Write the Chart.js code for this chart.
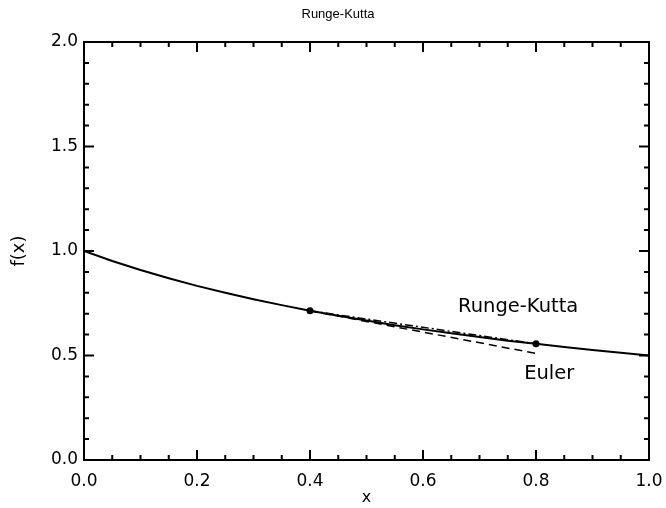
<!DOCTYPE html>
<html>
<head>
<meta charset="utf-8">
<script src="https://cdn.jsdelivr.net/npm/chart.js@4/dist/chart.umd.min.js"></script>
<style>
  html, body { margin: 0; padding: 0; background: #fff; }
  #wrap { width: 666px; height: 508px; }
</style>
</head>
<body>
<div id="wrap"><canvas id="c" width="666" height="508"></canvas></div>
<script>
// ---- data ----
const curveX = [0.00, 0.05, 0.10, 0.15, 0.20, 0.25, 0.30, 0.35, 0.40, 0.45, 0.50,
                0.55, 0.60, 0.65, 0.70, 0.75, 0.80, 0.85, 0.90, 0.95, 1.00];
const curveY = [1.000, 0.952, 0.909, 0.870, 0.833, 0.800, 0.769, 0.741, 0.714, 0.690, 0.667,
                0.645, 0.625, 0.606, 0.588, 0.571, 0.556, 0.541, 0.526, 0.513, 0.500];
const eulerX = [0.40, 0.80];
const eulerY = [0.714, 0.510];
const rkX = [0.40, 0.80];
const rkY = [0.714, 0.556];
const stepX = [0.40, 0.80];
const stepY = [0.714, 0.556];

const xMajorTicks = [0.0, 0.2, 0.4, 0.6, 0.8, 1.0];
const xMinorTicks = [0.05, 0.10, 0.15, 0.25, 0.30, 0.35, 0.45, 0.50, 0.55, 0.65, 0.70, 0.75, 0.85, 0.90, 0.95];
const yMajorTicks = [0.0, 0.5, 1.0, 1.5, 2.0];
const yMinorTicks = [0.1, 0.2, 0.3, 0.4, 0.6, 0.7, 0.8, 0.9, 1.1, 1.2, 1.3, 1.4, 1.6, 1.7, 1.8, 1.9];

const titleText = 'Runge-Kutta';
const xTitle = 'x';
const yTitle = 'f(x)';
const labels = [
  { text: 'Runge-Kutta', x: 0.662, y: 0.732 },
  { text: 'Euler', x: 0.779, y: 0.413 }
];

const toPts = (xs, ys) => xs.map((x, i) => ({ x: x, y: ys[i] }));
const FONT = "'DejaVu Sans', 'Liberation Sans', sans-serif";

const framePlugin = {
  id: 'frame',
  afterDatasetsDraw(chart) {
    const ctx = chart.ctx;
    const a = chart.chartArea;
    const xs = chart.scales.x, ys = chart.scales.y;
    ctx.save();
    ctx.strokeStyle = '#000';
    ctx.lineWidth = 2;
    ctx.lineCap = 'butt';
    ctx.strokeRect(a.left, a.top, a.right - a.left, a.bottom - a.top);
    const tick = (vals, len) => {
      vals.forEach(v => {
        const px = xs.getPixelForValue(v);
        ctx.beginPath();
        ctx.moveTo(px, a.bottom); ctx.lineTo(px, a.bottom - len);
        ctx.moveTo(px, a.top); ctx.lineTo(px, a.top + len);
        ctx.stroke();
      });
    };
    const tickY = (vals, len) => {
      vals.forEach(v => {
        const py = ys.getPixelForValue(v);
        ctx.beginPath();
        ctx.moveTo(a.left, py); ctx.lineTo(a.left + len, py);
        ctx.moveTo(a.right, py); ctx.lineTo(a.right - len, py);
        ctx.stroke();
      });
    };
    tick(xMajorTicks, 10); tick(xMinorTicks, 5);
    tickY(yMajorTicks, 10); tickY(yMinorTicks, 5);
    // annotations
    ctx.fillStyle = '#000';
    ctx.font = '19.5px ' + FONT;
    ctx.textAlign = 'left';
    ctx.textBaseline = 'middle';
    labels.forEach(l => {
      ctx.fillText(l.text, xs.getPixelForValue(l.x), ys.getPixelForValue(l.y));
    });
    // title
    ctx.font = "13px 'Liberation Sans', 'DejaVu Sans', sans-serif";
    ctx.textAlign = 'center';
    ctx.fillText(titleText, chart.width / 2 + 5, 14);
    ctx.restore();
  }
};

new Chart(document.getElementById('c'), {
  type: 'scatter',
  data: {
    datasets: [
      { data: toPts(curveX, curveY), showLine: true, borderColor: '#000', borderWidth: 2,
        pointRadius: 0, tension: 0, fill: false },
      { data: toPts(eulerX, eulerY), showLine: true, borderColor: '#000', borderWidth: 1.5,
        borderDash: [8, 5], pointRadius: 0, fill: false },
      { data: toPts(rkX, rkY), showLine: true, borderColor: '#000', borderWidth: 1.5,
        borderDash: [8, 3, 2, 3], pointRadius: 0, fill: false },
      { data: toPts(stepX, stepY), showLine: false, pointRadius: 3.5,
        pointBackgroundColor: '#000', pointBorderColor: '#000', pointBorderWidth: 0 }
    ]
  },
  options: {
    responsive: false,
    animation: false,
    devicePixelRatio: 1,
    layout: { padding: { left: 0, right: 0, top: 42, bottom: 0 } },
    plugins: {
      legend: { display: false },
      tooltip: { enabled: false },
      title: { display: false }
    },
    scales: {
      x: {
        type: 'linear', min: 0, max: 1,
        afterBuildTicks: s => { s.ticks = xMajorTicks.map(v => ({ value: v })); },
        afterFit: s => { s.height = 48; s.paddingLeft = 0; s.paddingRight = 17; },
        grid: { display: false, drawTicks: false },
        border: { display: false },
        ticks: { color: '#000', padding: 11, maxRotation: 0, autoSkip: false,
                 font: { family: FONT, size: 17 }, callback: v => v.toFixed(1) },
        title: { display: true, text: xTitle, color: '#000',
                 font: { family: FONT, size: 16 }, padding: { top: 0, bottom: 1 } }
      },
      y: {
        type: 'linear', min: 0, max: 2,
        afterBuildTicks: s => { s.ticks = yMajorTicks.map(v => ({ value: v })); },
        afterFit: s => { s.width = 84; },
        grid: { display: false, drawTicks: false },
        border: { display: false },
        ticks: { color: '#000', padding: 6, autoSkip: false,
                 font: { family: FONT, size: 17 }, callback: v => v.toFixed(1) },
        title: { display: true, text: yTitle, color: '#000',
                 font: { family: FONT, size: 18 }, padding: { top: 9, bottom: 0 } }
      }
    }
  },
  plugins: [framePlugin]
});
</script>
</body>
</html>
